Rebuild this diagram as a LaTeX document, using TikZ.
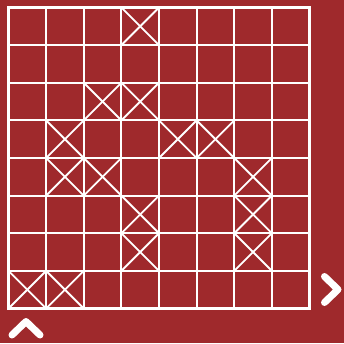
\documentclass[tikz,border=0pt]{standalone}
\usetikzlibrary{positioning}
\definecolor{boardred}{RGB}{159,41,44}
\begin{document}
\begin{tikzpicture}[x=1pt,y=-1pt,white,line width=1.9pt,
  chevron/.style={line width=7pt,line cap=round,line join=round}]
\fill[boardred] (0,0) rectangle (344,343);
% grid
\foreach \i in {1,...,7} {
  \draw ({8.5+37.625*\i},7.5) -- ({8.5+37.625*\i},308.5);
  \draw (8.5,{7.5+37.625*\i}) -- (309.5,{7.5+37.625*\i});
}
\draw[line width=2.4pt] (8.5,7.5) rectangle (309.5,308.5);
% crossed cells, col/row
\foreach \c/\r in {3/0,2/2,3/2,1/3,4/3,5/3,1/4,2/4,6/4,3/5,6/5,3/6,6/6,0/7,1/7} {
  \draw ({8.5+37.625*\c},{7.5+37.625*\r}) -- ++(37.625,37.625);
  \draw ({8.5+37.625*(\c+1)},{7.5+37.625*\r}) -- ++(-37.625,37.625);
}
% arrows
\draw[chevron] (12,335) -- (26,321.5) -- (40,335);
\draw[chevron] (324.5,276.5) -- (338,289.5) -- (324.5,302.5);
\end{tikzpicture}
\end{document}
